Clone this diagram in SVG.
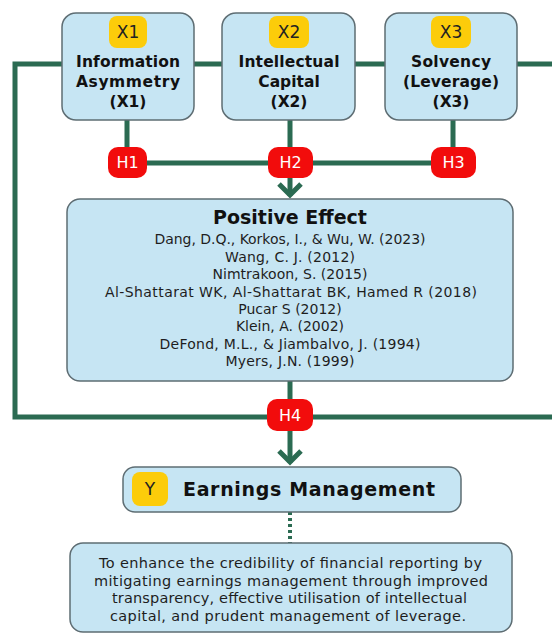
<svg xmlns="http://www.w3.org/2000/svg" width="552" height="634" viewBox="0 0 552 634">
<style>
.box{fill:#c6e5f3;stroke:#5e6d73;stroke-width:1.5}
.ln{stroke:#2b6b52;stroke-width:5;fill:none}
.yb{fill:#fccc0a}
.rb{fill:#f20c0c}
.bt{font-family:"DejaVu Sans",sans-serif;font-weight:bold;fill:#111;text-anchor:middle}
.rt{font-family:"DejaVu Sans",sans-serif;fill:#1e1e1e;text-anchor:middle}
.ht{font-family:"DejaVu Sans",sans-serif;fill:#fff;font-size:16px;text-anchor:middle}
.xt{font-family:"DejaVu Sans",sans-serif;fill:#222;font-size:17px;text-anchor:middle}
</style>
<rect width="552" height="634" fill="#fff"/>
<g id="connectors">
<path class="ln" d="M552 64 H15 V417 H552"/>
<path class="ln" d="M127 120 V163 H453 M290 120 V196 M453 120 V163"/>
<path class="ln" d="M279 184 L290 195 L301 184"/>
<path class="ln" d="M290 381 V463"/>
<path class="ln" d="M279 451 L290 462 L301 451"/>
<path d="M290 512 V543" stroke="#2b6b52" stroke-width="4" stroke-dasharray="3 3"/>
</g>
<g id="x1">
<rect class="box" x="62" y="13" width="132" height="107" rx="14"/>
<rect class="yb" x="109" y="16" width="38" height="32" rx="8"/>
<text class="xt" x="128" y="38">X1</text>
<text class="bt" font-size="15.5" x="128" y="67" textLength="104">Information</text>
<text class="bt" font-size="15.5" x="128" y="87" textLength="104">Asymmetry</text>
<text class="bt" font-size="15.5" x="128" y="107">(X1)</text>
</g>
<g id="x2">
<rect class="box" x="222" y="13" width="133" height="107" rx="14"/>
<rect class="yb" x="269" y="16" width="40" height="32" rx="8"/>
<text class="xt" x="289" y="38">X2</text>
<text class="bt" font-size="15.5" x="289" y="67" textLength="101">Intellectual</text>
<text class="bt" font-size="15.5" x="289" y="87">Capital</text>
<text class="bt" font-size="15.5" x="289" y="107">(X2)</text>
</g>
<g id="x3">
<rect class="box" x="385" y="13" width="132" height="107" rx="14"/>
<rect class="yb" x="431" y="16" width="40" height="32" rx="8"/>
<text class="xt" x="451" y="38">X3</text>
<text class="bt" font-size="15.5" x="451" y="67" textLength="80">Solvency</text>
<text class="bt" font-size="15.5" x="451" y="87" textLength="96">(Leverage)</text>
<text class="bt" font-size="15.5" x="451" y="107">(X3)</text>
</g>
<g id="h1"><rect class="rb" x="108" y="147" width="39" height="31" rx="10"/><text class="ht" x="127.5" y="168">H1</text></g>
<g id="h2"><rect class="rb" x="268" y="147" width="45" height="31" rx="10"/><text class="ht" x="290.5" y="168">H2</text></g>
<g id="h3"><rect class="rb" x="431" y="147" width="45" height="31" rx="10"/><text class="ht" x="453.5" y="168">H3</text></g>
<g id="positive">
<rect class="box" x="67" y="199" width="446" height="182" rx="13"/>
<text class="bt" font-size="19" x="290" y="224">Positive Effect</text>
<g class="rt" font-size="14">
<text x="290" y="244" textLength="271">Dang, D.Q., Korkos, I., &amp; Wu, W. (2023)</text>
<text x="290" y="262" textLength="130">Wang, C. J. (2012)</text>
<text x="290" y="279" textLength="155">Nimtrakoon, S. (2015)</text>
<text x="291" y="297" textLength="372">Al-Shattarat WK, Al-Shattarat BK, Hamed R (2018)</text>
<text x="290" y="314">Pucar S (2012)</text>
<text x="290" y="331">Klein, A. (2002)</text>
<text x="290" y="349" textLength="261">DeFond, M.L., &amp; Jiambalvo, J. (1994)</text>
<text x="290" y="366" textLength="129">Myers, J.N. (1999)</text>
</g>
</g>
<g id="h4"><rect class="rb" x="267" y="399" width="46" height="32" rx="10"/><text class="ht" x="290" y="421">H4</text></g>
<g id="y">
<rect class="box" x="123" y="467" width="338" height="45" rx="12"/>
<rect class="yb" x="132" y="472" width="36" height="34" rx="8"/>
<text class="xt" x="150" y="495">Y</text>
<text class="bt" font-size="19" x="309" y="496" textLength="252">Earnings Management</text>
</g>
<g id="goal">
<rect class="box" x="70" y="543" width="442" height="89" rx="13"/>
<g class="rt" font-size="14.5">
<text x="290.5" y="568" textLength="383">To enhance the credibility of financial reporting by</text>
<text x="291" y="586" textLength="394">mitigating earnings management through improved</text>
<text x="289.5" y="603" textLength="355">transparency, effective utilisation of intellectual</text>
<text x="288" y="621" textLength="356">capital, and prudent management of leverage.</text>
</g>
</g>
</svg>
